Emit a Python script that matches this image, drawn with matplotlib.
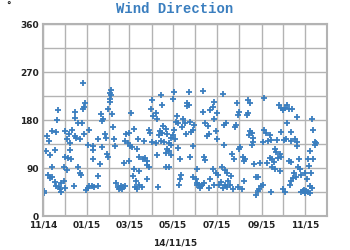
import numpy as np
import pandas as pd
import matplotlib
matplotlib.use('Agg')
import matplotlib.pyplot as plt
import matplotlib.dates as mdates

# Observation time (days after 2014-11-01) and wind direction in degrees
day = [56, 59, 57, 55, 21, 45, 19, 44, 48, 54, 64, 40, 12, 18, 30, 5, 36, 44, 46, 51,
       57, 8, 33, 37, 63, 70, 69, 4, 16, 38, 9, 31, 39, 35, 69, 13, 29, 48, 7, 12,
       9, 33, 51, 53, 16, 18, 25, 29, 22, 43, 23, 25, 30, 1, 2, 62, 64, 60, 68, 71,
       94.5, 93.5, 94.5, 92.6, 93.5, 91, 151.5, 150, 153, 80.5, 83, 82, 122, 96, 147, 149,
       97, 127, 116, 119, 86.6, 88, 77, 99, 131.5, 140, 151.5, 114, 118, 121, 124, 130.6,
       82, 100.5, 89, 91, 134, 139, 142, 144.5, 147, 144, 120, 113, 78.7, 127, 133, 125,
       77, 130, 133, 144, 138, 76, 102, 104, 106.5, 108, 111, 105, 110, 114, 128, 130.6,
       163.7, 182, 181, 203, 223, 165, 201, 203, 200, 222, 233, 157, 158, 186, 184.5, 188,
       195, 198, 204, 210, 194, 226, 229, 167.4, 170.6, 162.7, 166, 173, 182, 198.4, 206, 209,
       178.5, 181.3, 183, 161.4, 164, 168.3, 175, 156.7, 228.6, 231, 177.6, 209, 187.8, 173, 175.3, 170.6,
       159, 177.6, 190.6, 204.5, 224, 226, 175.3, 170.6, 213.7, 192.4, 190.6, 189, 209, 212.4, 214.7, 217,
       213.7, 219.3, 221.6, 224, 218.4, 233, 231, 160,
       251, 237.4, 236, 242, 238.3, 270, 285.6, 288.4, 308, 273, 270.8, 285.6, 283.8, 254.6, 252.2, 268.5,
       267, 240.7, 242, 288.4, 290.3, 287, 291.6, 308, 310.2, 305.6, 313.4, 251.3, 274.5, 273.1, 290.3, 291.6,
       262.4, 265.2, 277.7, 281, 279.1, 294, 302.3, 311.6, 236, 240.7, 244, 248.5, 253, 256, 261.5, 247.6,
       253.2, 257.8, 260.6, 256, 250, 245.3, 263.8, 270.8, 276.4, 280, 296.3, 299.5, 303.2, 301, 298.6, 296.3,
       305.6, 238.3,
       327.8, 331.5, 333.9, 336.2, 339.9, 341.7, 346.4, 353.8, 374, 339.9, 375.6, 331.5, 345.5, 315.3, 316.7, 326,
       335.3, 338.5, 344.5, 351, 353.8, 353.8, 378, 380.2, 378.9, 371, 322.3, 324.6, 329.2, 327, 315.3, 318.6,
       321.3, 331.5, 341.7, 344.5, 355.6, 368.6, 375.6, 369.6, 318.6, 322.3, 329.2, 354.7, 357, 349.2, 347.8, 352.4,
       359.4, 364, 372.3, 367.7, 345.5, 343.1, 333.9, 336.2, 317.6, 371, 374.2, 359.4, 361.7, 364, 366.3, 368.6,
       363, 371]
direction = [249, 211, 205, 200, 199, 195, 180, 183, 175, 175, 161, 162, 159, 157, 159, 150, 153, 150, 147, 144,
             153, 141, 144, 136, 134, 124, 132, 122, 124, 124, 114, 111, 106, 109, 106, 92, 92, 91, 76, 74,
             72, 87, 80, 76, 64, 57, 62, 66, 55, 56, 50, 45, 53, 47, 44, 53, 56, 49, 57, 55,
             237, 231, 226, 220, 214, 201, 218, 200, 187, 192, 181, 178, 194, 191, 162, 156,
             166, 164, 153, 156, 153, 147, 145, 144, 144, 141, 139, 141, 136, 132, 130, 126,
             130, 132, 116, 111, 111, 106, 109, 103, 92, 95, 103, 100, 97, 89, 84, 75,
             75, 66, 59, 70, 55, 56, 62, 55, 53, 56, 55, 50, 51, 57, 55, 50,
             226, 232, 219, 232, 234, 209, 212, 209, 207, 195, 199, 194, 181, 187, 176, 174,
             181, 175, 176, 170, 166, 175, 169, 169, 164, 159, 156, 153, 161, 153, 158, 161,
             147, 151, 144, 151, 141, 139, 137.5, 136, 150, 153, 134, 132, 128, 125, 122, 119,
             114, 114, 107.5, 111, 111, 105, 92.5, 91, 87.5, 76, 70, 59, 74, 69, 62.5, 59,
             57.5, 56, 59, 62.5, 53, 69, 53, 55,
             228, 214, 205, 194, 181, 212.5, 217.5, 212.5, 222, 195, 189, 194, 189, 174, 170, 170,
             166, 159, 144, 159, 155, 151, 147, 161, 156, 139, 141, 132.5, 130, 125, 134, 139,
             116, 107.5, 111, 107.5, 103, 97, 99, 100, 87.5, 80, 76, 92.5, 86, 80, 75, 64,
             59, 66, 57.5, 55, 53, 59, 50, 55, 51, 66, 74, 74, 56, 51, 47, 39,
             59, 59,
             207.5, 203, 199, 203, 207.5, 200, 200, 186, 182.5, 175, 161, 157.5, 157.5, 151, 142.5, 142.5,
             142.5, 144, 141, 144, 139, 131, 139, 136, 132.5, 122, 125, 120, 116, 109, 109, 106,
             101, 111, 103, 101, 107.5, 106, 107.5, 94, 91, 87.5, 84, 92.5, 87.5, 80, 72, 74,
             76, 80, 81, 69, 66, 57.5, 51, 45, 45, 56, 53, 45, 47, 44, 47, 45,
             49, 42.5]

blue = '#3a7ebf'
grey = '#b3b3b3'


def plot_wind_direction():
    dates = pd.Timestamp('2014-11-01') + pd.to_timedelta(np.array(day), unit='D')

    fig = plt.figure(figsize=(3.5, 2.5), dpi=100)
    ax = fig.add_axes([0.123, 0.136, 0.811, 0.768])

    ax.plot(dates, direction, '+', color=blue, markersize=5, markeredgewidth=1.3)

    # Axis ranges
    ax.set_xlim(pd.Timestamp('2014-11-01'), pd.Timestamp('2015-12-01'))
    ax.set_ylim(0, 360)

    # Ticks: labels every 2 months / 90 deg, grid every month / 45 deg
    ax.xaxis.set_major_locator(mdates.MonthLocator(bymonth=[1, 3, 5, 7, 9, 11]))
    ax.xaxis.set_minor_locator(mdates.MonthLocator())
    ax.xaxis.set_major_formatter(mdates.DateFormatter('%m/%y'))
    ax.set_yticks([0, 90, 180, 270, 360])
    ax.set_yticks(np.arange(0, 361, 45), minor=True)

    ax.grid(True, which='both', color=grey, linewidth=1)
    ax.set_axisbelow(True)
    ax.tick_params(axis='both', which='both', length=0, labelsize=6.5,
                   labelcolor='#222222', pad=3)
    for lbl in ax.get_xticklabels() + ax.get_yticklabels():
        lbl.set_fontweight('bold')

    for side in ['top', 'right', 'bottom', 'left']:
        ax.spines[side].set_color(grey)
        ax.spines[side].set_linewidth(1.5)

    # Titles and labels
    fig.text(0.5, 0.965, 'Wind Direction', ha='center', va='center',
             family='Liberation Mono', fontweight='bold', fontsize=10, color=blue)
    fig.text(0.025, 0.975, '°', ha='center', va='center', fontsize=6.5,
             fontweight='bold', color='#222222')
    fig.text(0.5, 0.028, '14/11/15', ha='center', va='center', fontsize=6.5,
             fontweight='bold', color='#222222')

    fig.savefig('out.png', dpi=100)


if __name__ == "__main__":
    plot_wind_direction()
